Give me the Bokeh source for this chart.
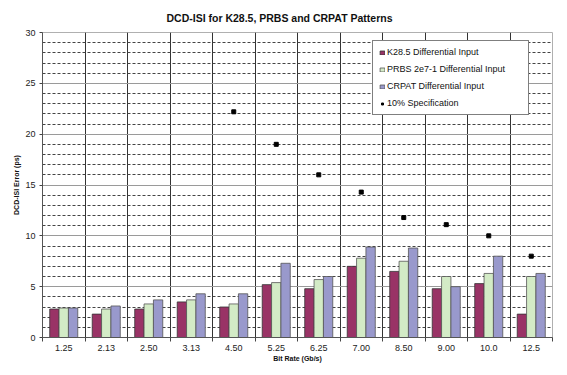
import numpy as np
from bokeh.plotting import figure
from bokeh.models import (ColumnDataSource, FixedTicker, SingleIntervalTicker, Range1d,
                          Legend, LegendItem)
from bokeh.transform import dodge
from bokeh.embed import file_html
from bokeh.resources import INLINE

# ---- data ----
rates = ["1.25", "2.13", "2.50", "3.13", "4.50", "5.25", "6.25", "7.00", "8.50", "9.00", "10.0", "12.5"]
k285 = [2.8, 2.3, 2.8, 3.5, 3.0, 5.2, 4.8, 7.0, 6.5, 4.8, 5.3, 2.3]
prbs = [2.9, 2.8, 3.3, 3.7, 3.3, 5.4, 5.7, 7.8, 7.5, 6.0, 6.3, 6.0]
crpat = [2.9, 3.1, 3.7, 4.3, 4.3, 7.3, 6.0, 8.9, 8.8, 5.0, 8.0, 6.3]
spec = [np.nan, np.nan, np.nan, np.nan, 22.2, 19.0, 16.0, 14.3, 11.8, 11.1, 10.0, 8.0]

series_names = ["K28.5 Differential Input", "PRBS 2e7-1 Differential Input",
                "CRPAT Differential Input", "10% Specification"]
colors = ["#993366", "#d3ebc6", "#9999cc"]

n = len(rates)
pos = np.arange(n) + 0.5
src = ColumnDataSource(dict(x=pos, rate=rates, k285=k285, prbs=prbs, crpat=crpat, spec=spec))

FONT = "Liberation Sans"

p = figure(width=567, height=375, output_backend="svg", toolbar_location=None,
           x_range=Range1d(0, n), y_range=Range1d(0, 30),
           min_border_left=42, min_border_right=15, min_border_top=32, min_border_bottom=38,
           background_fill_color="white", border_fill_color="white")

p.title.text = "DCD-ISI for K28.5, PRBS and  CRPAT Patterns"
p.title.text_font = FONT
p.title.text_font_size = "10.5px"
p.title.text_font_style = "bold"
p.title.text_color = "#111111"
p.title.align = "left"
p.title.offset = 124
p.title.standoff = 18

p.outline_line_color = "#b0b0b0"

# grids
p.xgrid.ticker = FixedTicker(ticks=list(range(n + 1)))
p.xgrid.grid_line_color = "#333333"
p.xgrid.grid_line_width = 1

p.yaxis.ticker = SingleIntervalTicker(interval=5, num_minor_ticks=5)
p.ygrid.grid_line_color = "#9a9a9a"
p.ygrid.grid_line_width = 1
p.ygrid.minor_grid_line_color = "#444444"
p.ygrid.minor_grid_line_dash = "3 2"
p.ygrid.minor_grid_line_width = 1

# bars
w = 0.22
rk = p.vbar(x=dodge("x", -w, range=None), top="k285", width=w, source=src,
            fill_color=colors[0], line_color="#333333", line_width=0.8)
rp = p.vbar(x="x", top="prbs", width=w, source=src,
            fill_color=colors[1], line_color="#555555", line_width=0.8)
rc = p.vbar(x=dodge("x", w, range=None), top="crpat", width=w, source=src,
            fill_color=colors[2], line_color="#555555", line_width=0.8)
rs = p.scatter(x="x", y="spec", source=src, marker="square", size=4,
               fill_color="black", line_color="black")

# axes
p.xaxis.ticker = FixedTicker(ticks=list(pos), minor_ticks=list(range(n + 1)))
p.xaxis.major_label_overrides = {float(x): r for x, r in zip(pos, rates)}
p.xaxis.major_tick_line_color = None
p.xaxis.major_tick_out = 4
p.xaxis.major_tick_in = 0
p.xaxis.minor_tick_line_color = "#444444"
p.xaxis.minor_tick_out = 4
p.xaxis.minor_tick_in = 0
p.xaxis.axis_label = "Bit Rate (Gb/s)"

p.yaxis.axis_label = "DCD-ISI Error (ps)"
p.yaxis.minor_tick_line_color = None
p.yaxis.major_tick_out = 3
p.yaxis.major_tick_in = 0
p.yaxis.major_tick_line_color = "#444444"

for ax in (p.xaxis, p.yaxis):
    ax.axis_line_color = "#555555"
    ax.major_label_text_font = FONT
    ax.major_label_text_font_size = "9px"
    ax.major_label_text_color = "#222222"
    ax.major_label_standoff = 3
    ax.axis_label_text_font = FONT
    ax.axis_label_text_font_size = "7px"
    ax.axis_label_text_font_style = "bold"
    ax.axis_label_text_color = "#111111"
p.xaxis.axis_label_standoff = 1
p.yaxis.axis_label_standoff = 2

legend = Legend(items=[LegendItem(label=series_names[0], renderers=[rk]),
                       LegendItem(label=series_names[1], renderers=[rp]),
                       LegendItem(label=series_names[2], renderers=[rc]),
                       LegendItem(label=series_names[3], renderers=[rs])],
                location=(330, 222), orientation="vertical",
                label_text_font=FONT, label_text_font_size="9px", label_text_color="#111111",
                glyph_height=5, glyph_width=6, label_height=10, spacing=7, padding=6,
                label_standoff=2, label_width=135, margin=0,
                border_line_color="black", border_line_width=1,
                background_fill_color="white", background_fill_alpha=1.0)
p.add_layout(legend, "center")

open("out.html", "w").write(file_html(p, INLINE))
